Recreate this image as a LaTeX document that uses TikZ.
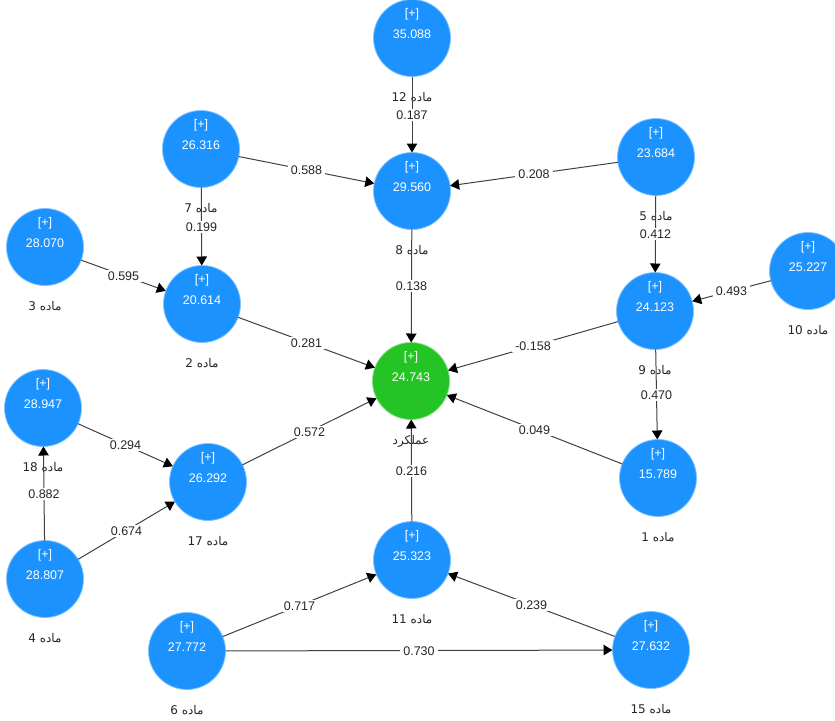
\documentclass[tikz,border=0pt]{standalone}
\usepackage{fontspec}
\setmainfont{Liberation Sans}
\newfontfamily\arfont[Script=Arabic]{DejaVu Sans}
\TeXXeTstate=1
\usepackage{tikz}
\usetikzlibrary{arrows.meta,positioning}
\definecolor{pblue}{RGB}{28,146,255}
\definecolor{pgreen}{RGB}{36,196,36}
\newcommand*{\madeh}[1]{{\arfont\beginR ماده \beginL#1\endL\endR}}
% circle, [+], value and the name under it
\newcommand*{\cnode}[5][lvnode]{%
\node[#1] (#2) at (#3) {};
\node[plustext] (#2p) at ([yshift=24pt]#2.center) {[+]};
\node[numtext] (#2v) at ([yshift=4pt]#2.center) {#4};
\node[itemlabel] (#2l) at ([yshift=-59pt]#2.center) {#5};}

\begin{document}
\begin{tikzpicture}[x=1pt,y=-1pt,
  lvnode/.style={circle,fill=pblue,draw=pblue!55,line width=0.8pt,minimum size=77pt,inner sep=0pt,outer sep=0pt},
  target/.style={lvnode,fill=pgreen,draw=pgreen!55},
  plustext/.style={text=white,font=\fontsize{12.5}{14}\selectfont,inner sep=0pt},
  numtext/.style={text=white,font=\fontsize{12.5}{14}\selectfont,inner sep=0pt,text height=9pt,text depth=0pt},
  itemlabel/.style={text=black!85,font=\fontsize{12}{14}\selectfont,inner sep=0pt,text height=9pt,text depth=0pt},
  coef/.style={fill=white,text=black!85,font=\fontsize{12.5}{14}\selectfont,inner xsep=3pt,inner ysep=1.5pt,text height=9pt,text depth=0pt},
  conn/.style={draw=black!75,line width=1pt,-{Triangle[length=9pt,width=10.5pt,black]}}]
\useasboundingbox (0,0) rectangle (835,720);
% First place all the constructs
\cnode{m12}{412,38}{35.088}{\madeh{12}}
\cnode{m8}{412,191}{29.560}{\madeh{8}}
\cnode{m7}{201,149}{26.316}{\madeh{7}}
\cnode{m5}{656,157}{23.684}{\madeh{5}}
\cnode{m3}{45,247}{28.070}{\madeh{3}}
\cnode{m2}{202,304}{20.614}{\madeh{2}}
\cnode{m10}{808,271}{25.227}{\madeh{10}}
\cnode{m9}{655,311}{24.123}{\madeh{9}}
\cnode[target]{perf}{411,381}{24.743}{{\arfont\beginR عملکرد\endR}}
\cnode{m18}{43,408}{28.947}{\madeh{18}}
\cnode{m17}{208,482}{26.292}{\madeh{17}}
\cnode{m1}{658,478}{15.789}{\madeh{1}}
\cnode{m11}{412,560}{25.323}{\madeh{11}}
\cnode{m4}{45,579}{28.807}{\madeh{4}}
\cnode{m6}{187,651}{27.772}{\madeh{6}}
\cnode{m15}{651,650}{27.632}{\madeh{15}}
% Now connect them, coefficient in the middle of each path
\draw[conn] (m12) -- node[coef] (c187) {0.187} (m8);
\draw[conn] (m7) -- node[coef] (c588) {0.588} (m8);
\draw[conn] (m5) -- node[coef] (c208) {0.208} (m8);
\draw[conn] (m7) -- node[coef] (c199) {0.199} (m2);
\draw[conn] (m3) -- node[coef] (c595) {0.595} (m2);
\draw[conn] (m8) -- node[coef] (c138) {0.138} (perf);
\draw[conn] (m5) -- node[coef] (c412) {0.412} (m9);
\draw[conn] (m10) -- node[coef] (c493) {0.493} (m9);
\draw[conn] (m2) -- node[coef] (c281) {0.281} (perf);
\draw[conn] (m9) -- node[coef] (c158) {-0.158} (perf);
\draw[conn] (m9) -- node[coef] (c470) {0.470} (m1);
\draw[conn] (m1) -- node[coef] (c049) {0.049} (perf);
\draw[conn] (m18) -- node[coef] (c294) {0.294} (m17);
\draw[conn] (m17) -- node[coef] (c572) {0.572} (perf);
\draw[conn] (m11) -- node[coef] (c216) {0.216} (perf);
\draw[conn] (m4) -- node[coef] (c882) {0.882} (m18);
\draw[conn] (m4) -- node[coef] (c674) {0.674} (m17);
\draw[conn] (m6) -- node[coef] (c717) {0.717} (m11);
\draw[conn] (m15) -- node[coef] (c239) {0.239} (m11);
\draw[conn] (m6) -- node[coef] (c730) {0.730} (m15);
\end{tikzpicture}
\end{document}
